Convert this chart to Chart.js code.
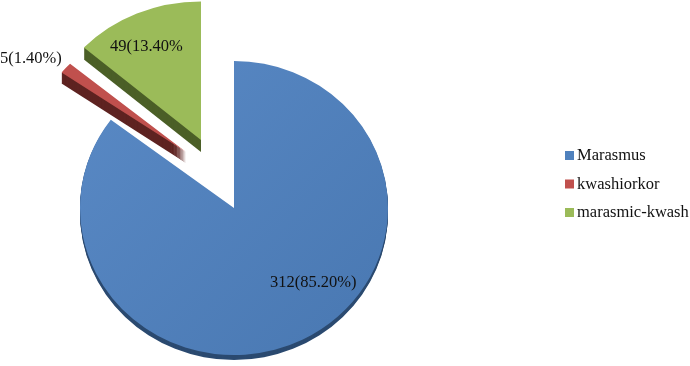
<!DOCTYPE html>
<html>
<head>
<meta charset="utf-8">
<style>
  html, body { margin: 0; padding: 0; background: #fff; }
  #wrap { width: 690px; height: 366px; }
</style>
<script src="https://cdn.jsdelivr.net/npm/chart.js@4"></script>
</head>
<body>
<div id="wrap"><canvas id="pie" width="690" height="366"></canvas></div>
<script>
const categories = ['Marasmus', 'kwashiorkor', 'marasmic-kwash'];
const counts = [312, 5, 49];
const valueLabels = ['312(85.20%)', '5(1.40%)', '49(13.40%'];
const colors = ['#4f81bd', '#c0504d', '#9bbb59'];
const sideColors = ['#2b4a70', '#5e2321', '#4b5f27'];

const FONT = '"Liberation Serif", serif';

// fake 3D: squashed pie, exploded slices and a dark extruded side
const pie3d = {
  id: 'pie3d',
  beforeDatasetDraw(chart, args) {
    const { ctx } = chart;
    const shift = [[0, 0], [-48, -56], [-33, -68]];
    const stretch = [1, 1.01, 1.02];
    const tilt = [0.955, 0.86, 0.9];
    const depth = [5, 11, 12];
    args.meta.data.forEach((arc, i) => {
      ctx.fillStyle = sideColors[i];
      for (let d = depth[i]; d >= 0; d--) {
        ctx.save();
        ctx.translate(234 + shift[i][0], 208 + shift[i][1] + d);
        ctx.scale(stretch[i], tilt[i]);
        ctx.translate(-arc.x, -arc.y);
        if (d === 0) {
          arc.draw(ctx);
        } else {
          ctx.beginPath();
          ctx.moveTo(arc.x, arc.y);
          ctx.arc(arc.x, arc.y, arc.outerRadius, arc.startAngle, arc.endAngle);
          ctx.closePath();
          ctx.fill();
        }
        ctx.restore();
      }
    });
    return false;
  },
  afterDraw(chart) {
    const { ctx } = chart;
    ctx.save();
    ctx.font = '16.5px ' + FONT;
    ctx.fillStyle = '#111';
    ctx.textBaseline = 'middle';
    ctx.fillText(valueLabels[0], 270, 283);
    ctx.fillText(valueLabels[1], 0, 59);
    ctx.fillText(valueLabels[2], 110, 47);
    // legend by hand, the built-in one keeps too wide a gap after the box
    categories.forEach((name, i) => {
      const y = 155 + i * 28.5;
      ctx.fillStyle = colors[i];
      ctx.fillRect(565, y - 4, 9, 9);
      ctx.fillStyle = '#111';
      ctx.fillText(name, 577, y + 1);
    });
    ctx.restore();
  }
};

function sliceColor(c) {
  if (c.dataIndex !== 0) return colors[c.dataIndex];
  const g = c.chart.ctx.createLinearGradient(160, 40, 460, 320);
  g.addColorStop(0, '#5a8ac6');
  g.addColorStop(1, '#4a79b3');
  return g;
}

new Chart(document.getElementById('pie'), {
  type: 'pie',
  data: {
    labels: categories,
    datasets: [{
      data: counts,
      backgroundColor: sliceColor,
      borderWidth: 0
    }]
  },
  options: {
    responsive: false,
    animation: false,
    radius: 154,
    plugins: {
      tooltip: { enabled: false },
      legend: { display: false }
    }
  },
  plugins: [pie3d]
});
</script>
</body>
</html>
